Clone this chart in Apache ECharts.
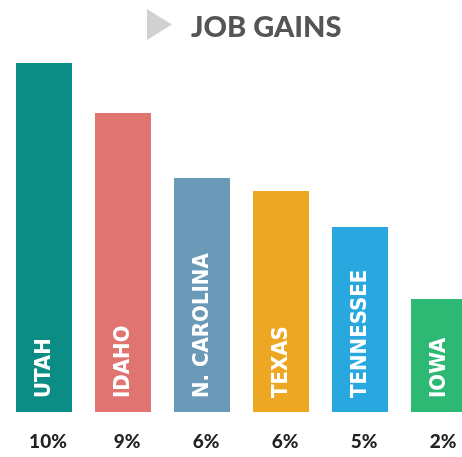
<!DOCTYPE html>
<html>
<head>
<meta charset="utf-8">
<script src="https://cdn.jsdelivr.net/npm/echarts@6/dist/echarts.min.js"></script>
<style>
html,body{margin:0;padding:0;background:#fff;}
#chart{width:462px;height:457px;}
</style>
</head>
<body>
<div id="chart"></div>
<script>
const titleText = 'JOB GAINS';
const states = ['UTAH', 'IDAHO', 'N. CAROLINA', 'TEXAS', 'TENNESSEE', 'IOWA'];
const barValues = [349, 299, 234, 221, 185, 113];
const pctLabels = ['10%', '9%', '6%', '6%', '5%', '2%'];
const barColors = ['#0b8c85', '#df7470', '#6a9ab7', '#eea722', '#29a8e0', '#2db873'];

const chart = echarts.init(document.getElementById('chart'));
chart.setOption({
  animation: false,
  title: {
    text: titleText,
    left: 186,
    top: 8,
    textStyle: {
      fontFamily: 'Lato',
      fontWeight: 900,
      fontSize: 29,
      color: '#555555'
    }
  },
  graphic: [{
    type: 'polygon',
    shape: { points: [[147, 9], [172, 24.5], [147, 40]] },
    style: { fill: '#d0d1d0' }
  }],
  grid: { left: 4.5, width: 474, top: 62, bottom: 45, outerBoundsMode: 'none', containLabel: false },
  xAxis: {
    type: 'category',
    data: states,
    axisLine: { show: false },
    axisTick: { show: false },
    axisLabel: {
      margin: 20,
      fontFamily: 'Lato',
      fontWeight: 900,
      fontSize: 19,
      color: '#222222',
      padding: [0, 0, 0, 8],
      formatter: (v, i) => pctLabels[i]
    }
  },
  yAxis: {
    type: 'value',
    min: 0,
    max: 350,
    show: false,
    splitLine: { show: false }
  },
  series: [{
    type: 'bar',
    barWidth: 56,
    data: barValues.map((v, i) => ({ value: v, itemStyle: { color: barColors[i] } })),
    label: {
      show: true,
      position: 'insideBottom',
      distance: 14,
      rotate: 90,
      align: 'left',
      verticalAlign: 'middle',
      color: '#ffffff',
      fontFamily: '"DejaVu Sans Condensed", "DejaVu Sans", sans-serif',
      fontStyle: 'condensed',
      fontWeight: 'bold',
      fontSize: 22,
      formatter: (p) => states[p.dataIndex]
    }
  }]
});
</script>
</body>
</html>
